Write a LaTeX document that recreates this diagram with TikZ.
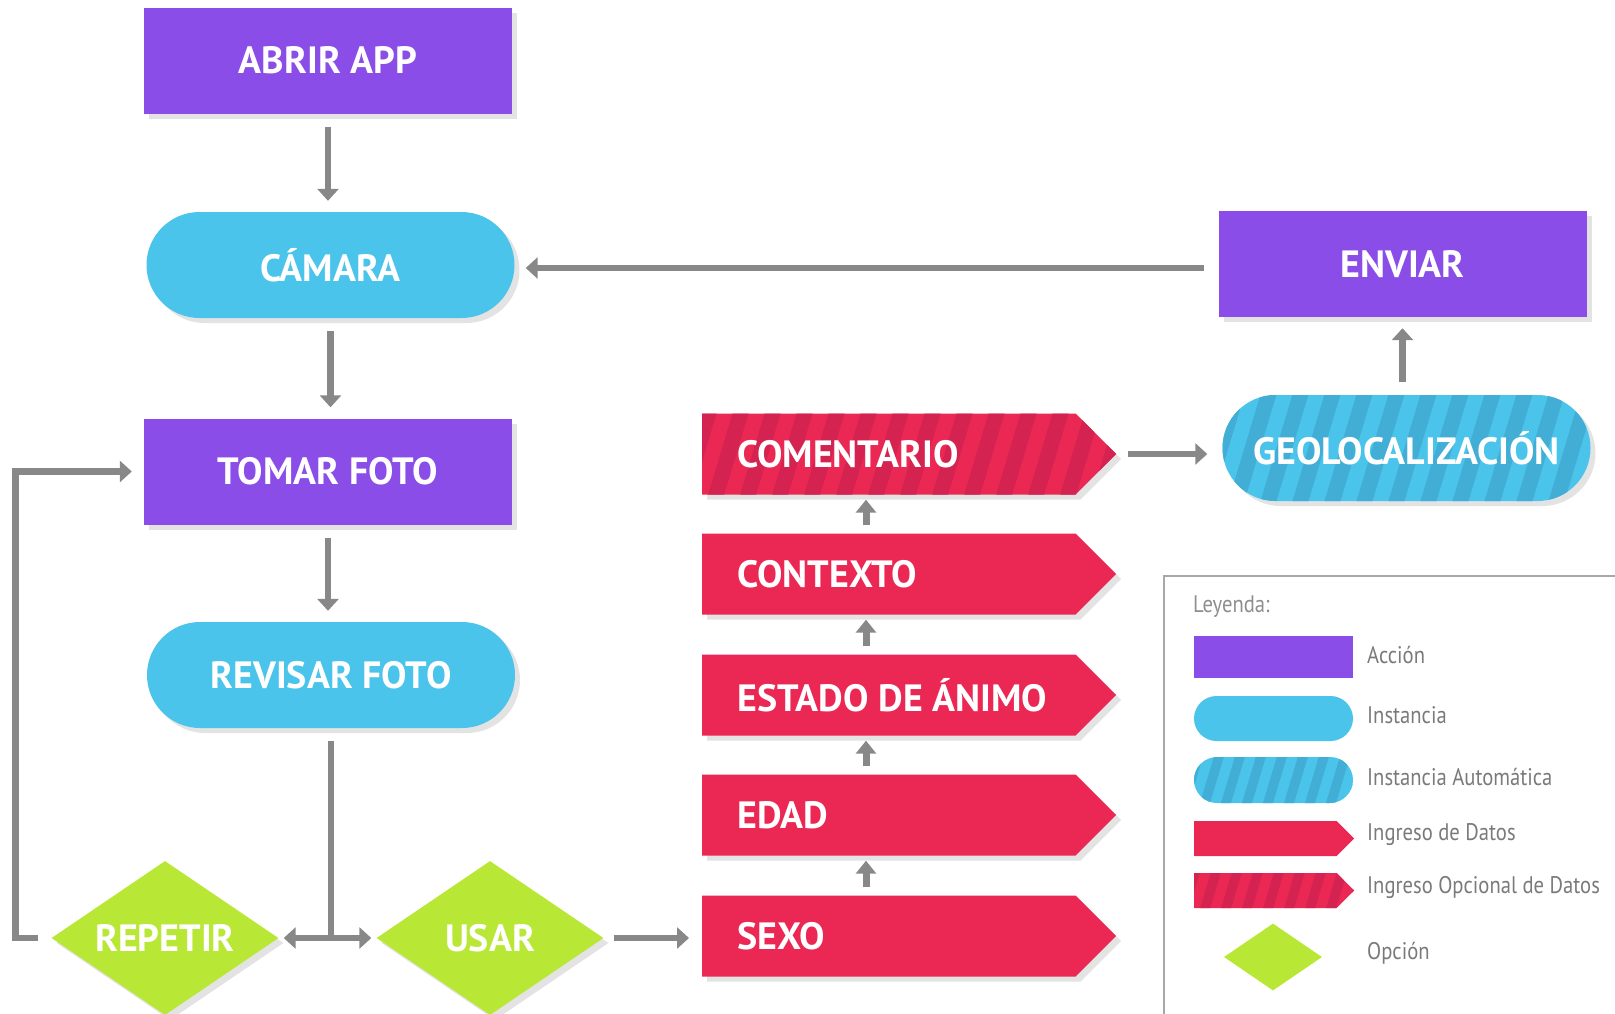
\documentclass[tikz,border=0pt]{standalone}
\usepackage{fontspec}
\setmainfont{PT Sans}
\newfontfamily\leyfont[FakeStretch=0.86]{PT Sans}
\usetikzlibrary{shapes.geometric,shapes.misc,shapes.symbols,shadows,arrows.meta,calc}

\definecolor{accion}{HTML}{8A4DE8}
\definecolor{inst}{HTML}{4AC4EA}
\definecolor{instdark}{HTML}{42AED5}
\definecolor{ingreso}{HTML}{EB2754}
\definecolor{ingresodark}{HTML}{D42350}
\definecolor{opcion}{HTML}{B8E835}
\definecolor{conector}{HTML}{888888}
\definecolor{sombra}{HTML}{E3E3E3}
\definecolor{leyenda}{HTML}{7A7A7A}
\definecolor{borde}{HTML}{A8A8A8}

% diagonal bands clipped to the current node shape
\newcommand\franjas[3]{%
  \foreach \k in {-6,...,22}{%
    \fill[#1] ($(path picture bounding box.south west)+(\k*#2,20)$)
      -- ++(#3,0) -- ++(45,-150) -- ++(-#3,0) -- cycle;
  }}

\tikzset{
  conSombra/.style={drop shadow={shadow xshift=5pt,shadow yshift=-5pt,fill=sombra,opacity=1}},
  etiqueta/.style={text=white,inner sep=0pt,font=\fontsize{38}{40}\selectfont\bfseries},
  accionbox/.style={rectangle,fill=accion,minimum width=368pt,minimum height=106pt,inner sep=0pt,conSombra,etiqueta},
  instbox/.style={rounded rectangle,fill=inst,minimum width=368pt,minimum height=106pt,inner sep=0pt,conSombra,etiqueta},
  autobox/.style={instbox,path picture={\franjas{instdark}{32}{16}}},
  datobox/.style={signal,signal to=east,signal pointer angle=90,fill=ingreso,minimum width=414pt,minimum height=81pt,inner sep=0pt,anchor=west,conSombra},
  optdatobox/.style={datobox,path picture={\franjas{ingresodark}{32}{16}}},
  opcionbox/.style={diamond,aspect=1.474,fill=opcion,minimum width=227pt,minimum height=154pt,inner sep=0pt,conSombra,etiqueta},
  datotexto/.style={etiqueta,anchor=west,xshift=35pt},
  conn/.style={draw=conector,line width=6.5pt,-{Triangle[width=21pt,length=12pt]},shorten <=13pt,shorten >=11pt},
  connchico/.style={draw=conector,line width=7pt,-{Triangle[width=20pt,length=13pt]},shorten <=8pt,shorten >=5pt},
  leytexto/.style={text=leyenda,anchor=west,inner sep=0pt,font=\leyfont\fontsize{24}{28}\selectfont},
  leyaccion/.style={rectangle,fill=accion,minimum width=159pt,minimum height=42pt,inner sep=0pt},
  leyinst/.style={rounded rectangle,fill=inst,minimum width=159pt,minimum height=45pt,inner sep=0pt},
  leyauto/.style={leyinst,minimum height=46pt,path picture={\franjas{instdark}{21}{10}}},
  leydato/.style={signal,signal to=east,signal pointer angle=90,fill=ingreso,minimum width=160pt,minimum height=35pt,inner sep=0pt,anchor=west},
  leyopcdato/.style={leydato,path picture={\franjas{ingresodark}{21}{10}}},
  leyopcion/.style={diamond,aspect=1.46,fill=opcion,minimum width=98pt,minimum height=67pt,inner sep=0pt},
}

\begin{document}
\begin{tikzpicture}[x=1pt,y=-1pt]
\useasboundingbox (0,0) rectangle (1615,1013);

% main flow
\node[accionbox] (abrir) at (328,60.5) {\raisebox{-3pt}{ABRIR APP}};
\node[instbox] (cam) at (330.5,265) {CÁMARA};
\node[accionbox] (tom) at (328,471.5) {TOMAR FOTO};
\node[instbox] (rev) at (331,675) {REVISAR FOTO};
\node[opcionbox] (rep) at (165,938) {REPETIR};
\node[opcionbox] (usar) at (490,938) {USAR};

% data entry column
\node[optdatobox,label={[datotexto]west:COMENTARIO}] (com) at (702,454) {};
\node[datobox,label={[datotexto]west:CONTEXTO}] (ctx) at (702,574) {};
\node[datobox,label={[datotexto]west:ESTADO DE ÁNIMO}] (est) at (702,695) {};
\node[datobox,label={[datotexto]west:EDAD}] (edad) at (702,815) {};
\node[datobox,label={[datotexto]west:SEXO}] (sexo) at (702,936) {};

% right column
\node[autobox] (geo) at (1406.5,448) {GEOLOCALIZACIÓN};
\node[accionbox] (env) at (1402.5,264) {ENVIAR};

% connectors
\draw[conn] (abrir.south) -- (abrir.south |- cam.north);
\draw[conn] (cam.south) -- (cam.south |- tom.north);
\draw[conn] (tom.south) -- (tom.south |- rev.north);
\coordinate (cruce) at (rev.south |- rep.east);
\draw[conn,-,shorten >=0pt] (rev.south) -- (cruce);
\draw[conn,{Triangle[width=21pt,length=12pt]}-{Triangle[width=21pt,length=12pt]},shorten <=5pt,shorten >=5pt] (rep.east) -- (usar.west);
\draw[conn,shorten >=12pt] (rep.west) -- ++(-36,0) |- (tom.west);
\draw[conn,shorten <=10pt,shorten >=13pt] (usar.east) -- (usar.east -| sexo.west);

\coordinate (colx) at (866,0);
\draw[connchico] (sexo.north -| colx) -- (edad.south -| colx);
\draw[connchico] (edad.north -| colx) -- (est.south -| colx);
\draw[connchico] (est.north -| colx) -- (ctx.south -| colx);
\draw[connchico] (ctx.north -| colx) -- (com.south -| colx);

\draw[conn,shorten <=12pt,shorten >=15pt] (com.east) -- (com.east -| geo.west);
\draw[conn] (env.south |- geo.north) -- (env.south);
\draw[conn,shorten <=14pt] ([yshift=-4pt]env.west) -- ([yshift=-4pt]env.west -| cam.east);

% legend
\draw[borde,line width=2pt] (1164,1030) -- (1164,576) -- (1630,576);
\node[leytexto,text=leyenda!85] (leytit) at (1193,607) {Leyenda:};
\node[leyaccion] (lacc) at (1273.5,657) {};
\node[leyinst] (linst) at (1273.5,718.5) {};
\node[leyauto] (lauto) at (1273.5,780) {};
\node[leydato] (ldato) at (1194,838.5) {};
\node[leyopcdato] (lopc) at (1194,890.5) {};
\node[leyopcion] (lopcion) at (1273,957) {};
\node[leytexto] (tacc) at (1367,655) {Acción};
\node[leytexto] (tinst) at (1367,715) {Instancia};
\node[leytexto] (tauto) at (1367,777) {Instancia Automática};
\node[leytexto] (tdato) at (1367,835) {Ingreso de Datos};
\node[leytexto] (topc) at (1367,887) {Ingreso Opcional de Datos};
\node[leytexto] (topcion) at (1367,953) {Opción};
\end{tikzpicture}
\end{document}
